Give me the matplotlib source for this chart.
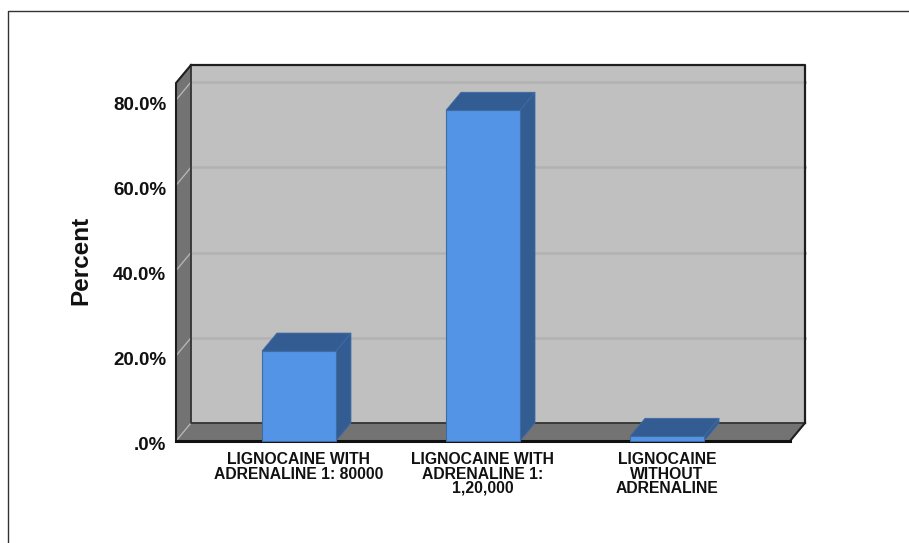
import matplotlib
matplotlib.use("Agg")
import matplotlib.pyplot as plt
from matplotlib.lines import Line2D
from matplotlib.patches import Polygon
from matplotlib.ticker import FixedLocator
from matplotlib.transforms import ScaledTranslation

W, H = 909, 543

categories = ["LIGNOCAINE WITH\nADRENALINE 1: 80000",
              "LIGNOCAINE WITH\nADRENALINE 1:\n1,20,000",
              "LIGNOCAINE\nWITHOUT\nADRENALINE"]
percent = [21.1, 77.6, 1.1]
y_ticks = [0, 20, 40, 60, 80]
y_tick_labels = [".0%", "20.0%", "40.0%", "60.0%", "80.0%"]

WALL = "#c0c0c0"
SIDE = "#737373"
GRID_BACK = "#b2b2b2"
GRID_SIDE = "#b4b4b4"
EDGE = "#1e1e1e"
BAR_FRONT = "#5394e6"
BAR_DARK = "#325c92"
BAR_EDGE = "#3f6ba3"

plt.rcParams["font.family"] = ["Liberation Sans", "DejaVu Sans"]
plt.rcParams["font.weight"] = "bold"

fig = plt.figure(figsize=(W / 100, H / 100), dpi=100, facecolor="white")

# axes cover the front plane of the box, the rest is offset by the depth
left, right, base, top = 176, 790, 441, 83
ax = fig.add_axes([left / W, 1 - base / H, (right - left) / W, (base - top) / H])
ax.set_xlim(-0.668, 2.668)
ax.set_ylim(0, 84)
for s in ax.spines.values():
    s.set_visible(False)
ax.patch.set_visible(False)

# depth of the box in data units (15 px across, 18 px up)
x0, x1 = ax.get_xlim()
y0, y1 = ax.get_ylim()
dx = 15 / (right - left) * (x1 - x0)
dy = 18 / (base - top) * (y1 - y0)


def poly(pts, fc, ec=None, lw=0.0, z=1):
    ax.add_patch(Polygon(pts, closed=True, facecolor=fc, edgecolor=ec or fc,
                         linewidth=lw, zorder=z, clip_on=False))


def edge(xs, ys, lw=1.6, color=EDGE, z=2):
    ax.plot(xs, ys, color=color, lw=lw, zorder=z, clip_on=False, solid_capstyle="projecting")


# box: back wall, left wall, floor
poly([(x0 + dx, dy), (x1 + dx, dy), (x1 + dx, y1 + dy), (x0 + dx, y1 + dy)], WALL)
poly([(x0, 0), (x0 + dx, dy), (x0 + dx, y1 + dy), (x0, y1)], SIDE)
poly([(x0, 0), (x1, 0), (x1 + dx, dy), (x0 + dx, dy)], SIDE)

for t in y_ticks[1:]:
    edge([x0 + dx, x1 + dx], [t + dy, t + dy], lw=1.8, color=GRID_BACK)
    edge([x0, x0 + dx], [t, t + dy], lw=1.0, color=GRID_SIDE)
edge([x0, x0 + dx], [0, dy], lw=1.0, color=GRID_SIDE)

edge([x0 + dx, x1 + dx, x1 + dx], [y1 + dy, y1 + dy, dy], lw=1.6)
edge([x0 + dx, x0 + dx, x1 + dx], [y1 + dy, dy, dy], lw=1.3, color="#333333")
edge([x0, x0, x0 + dx], [0, y1, y1 + dy], lw=1.5)
edge([x1, x1 + dx], [0, dy], lw=1.5)
edge([x0, x1], [0, 0], lw=2.2, color="#111111", z=2)

# bars
bar_w = 0.402
for i, v in enumerate(percent):
    a, b = i - bar_w / 2, i + bar_w / 2
    poly([(b, 0), (b + dx, dy), (b + dx, v + dy), (b, v)], BAR_DARK, BAR_EDGE, 0.6, 3)
    poly([(a, v), (b, v), (b + dx, v + dy), (a + dx, v + dy)], BAR_DARK, BAR_EDGE, 0.6, 3)
    poly([(a, 0), (b, 0), (b, v), (a, v)], BAR_FRONT, BAR_EDGE, 0.8, 4)

ax.xaxis.set_major_locator(FixedLocator(range(len(categories))))
ax.set_xticklabels(categories, fontsize=11.3, fontweight="bold", linespacing=0.95, color="#111111")
ax.yaxis.set_major_locator(FixedLocator(y_ticks))
ax.set_yticklabels(y_tick_labels, fontsize=13.5, fontweight="bold", color="#111111")
ax.tick_params(axis="both", length=0)
ax.tick_params(axis="x", pad=8)
ax.tick_params(axis="y", pad=7)
nudge = ScaledTranslation(0, -5 / 100, fig.dpi_scale_trans)
for lab in ax.get_yticklabels():
    lab.set_verticalalignment("center")
    lab.set_transform(lab.get_transform() + nudge)
ax.set_ylabel("Percent", fontsize=17.5, fontweight="bold", color="#111111")
ax.yaxis.set_label_coords((92 - left) / (right - left), (base - 260) / (base - top))

# thin frame along the top and left of the image
fig.add_artist(Line2D([8 / W, 8 / W, 1], [0, 1 - 11 / H, 1 - 11 / H], color="#333333", lw=1.0))

fig.savefig("out.png", dpi=100)
